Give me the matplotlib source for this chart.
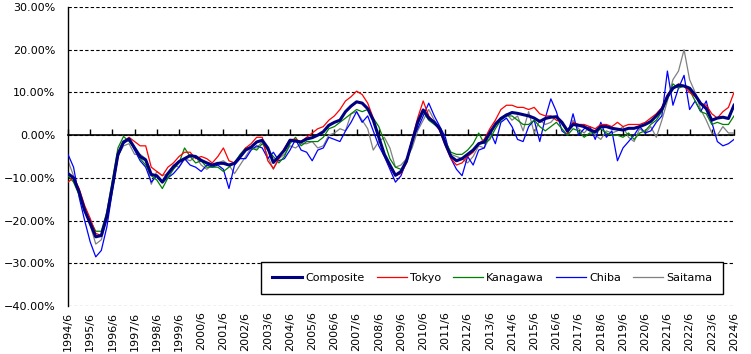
import numpy as np
import matplotlib
matplotlib.use("Agg")
from matplotlib import pyplot as plt
from matplotlib.ticker import FuncFormatter, FixedLocator

# quarterly readings (Jun 1994 .. Jun 2024), year-on-year change in %
start_year = 1994.5
composite = [
    -9.0, -10.0, -13.3,                 # 1994
    -17.6, -20.7, -23.8, -23.5,         # 1995
    -19.0, -12.0, -4.5, -1.6,           # 1996
    -0.9, -3.0, -5.0, -5.8,             # 1997
    -9.2, -9.5, -11.0, -9.0,            # 1998
    -7.4, -6.2, -5.5, -4.8,             # 1999
    -5.0, -5.9, -6.5, -7.0,             # 2000
    -6.6, -6.6, -7.0, -6.6,             # 2001
    -5.1, -3.5, -2.8, -1.6,             # 2002
    -1.2, -3.0, -6.4, -5.0,             # 2003
    -3.5, -1.2, -1.4, -1.6,             # 2004
    -0.9, -0.6, 0.0, 0.8,               # 2005
    2.3, 3.0, 3.5, 5.5,                 # 2006
    6.8, 7.8, 7.5, 6.2,                 # 2007
    3.5, -0.5, -4.5, -7.0,              # 2008
    -9.4, -8.5, -6.0, -1.5,             # 2009
    3.0, 5.9, 4.0, 3.0,                 # 2010
    1.5, -2.0, -5.0, -6.0,              # 2011
    -5.5, -4.5, -3.5, -2.0,             # 2012
    -1.6, 0.5, 2.5, 3.9,                # 2013
    4.7, 5.3, 5.1, 4.8,                 # 2014
    4.5, 4.0, 3.2, 3.9,                 # 2015
    4.2, 4.3, 3.0, 1.0,                 # 2016
    2.5, 2.3, 2.0, 1.2,                 # 2017
    0.8, 2.0, 2.0, 1.6,                 # 2018
    1.4, 1.2, 1.6, 1.6,                 # 2019
    2.0, 2.5, 3.2, 4.5,                 # 2020
    6.0, 9.0, 11.0, 11.7,               # 2021
    11.5, 11.0, 9.4, 7.4,               # 2022
    6.2, 3.5, 4.0, 4.2,                 # 2023
    3.9, 7.0,                           # 2024
]
tokyo = [
    -11.0, -10.0, -12.5,
    -16.5, -19.5, -23.0, -23.5,
    -19.5, -11.5, -4.0, -1.5,
    -0.5, -1.5, -2.5, -2.5,
    -7.5, -8.5, -9.5, -7.5,
    -6.5, -5.0, -4.0, -4.0,
    -5.5, -5.0, -5.5, -6.5,
    -5.0, -3.0, -6.0, -6.5,
    -5.0, -3.0, -2.0, -0.5,
    -0.5, -6.0, -7.8, -5.5,
    -3.0, -1.0, -1.0, -1.5,
    -0.5, 0.5, 1.5, 2.0,
    3.5, 4.5, 6.0, 8.0,
    9.0, 10.3, 9.5, 7.5,
    4.0, -0.5, -4.5, -7.5,
    -9.5, -9.0, -6.5, -1.0,
    4.0, 8.0, 4.5, 3.0,
    1.0, -2.5, -5.5, -7.0,
    -6.5, -5.0, -4.0, -2.0,
    -1.0, 1.5, 3.5, 6.0,
    7.0, 7.0, 6.5, 6.5,
    6.0, 6.5, 5.0, 4.5,
    4.5, 3.5, 3.0, 0.5,
    3.0, 2.5, 2.5, 2.0,
    1.5, 2.5, 2.5, 2.0,
    3.0, 2.0, 2.5, 2.5,
    2.5, 3.0, 4.0, 5.0,
    6.5, 9.5, 11.0, 12.0,
    11.5, 10.0, 9.0, 7.5,
    7.0, 5.0, 4.0, 5.5,
    6.5, 10.0,
]
kanagawa = [
    -9.5, -11.0, -14.0,
    -18.0, -20.0, -22.5, -22.5,
    -18.0, -10.5, -3.0, -0.3,
    -1.5, -3.0, -5.5, -7.0,
    -9.5, -10.5, -12.5, -10.0,
    -8.0, -6.5, -3.0, -5.0,
    -6.5, -6.0, -7.5, -7.5,
    -7.5, -8.5, -7.5, -6.5,
    -4.5, -3.0, -3.0, -3.5,
    -2.0, -3.5, -5.0, -6.5,
    -5.0, -2.0, -0.5, -2.5,
    -1.5, -1.5, -1.5, -0.5,
    1.5, 2.0, 3.0, 4.0,
    5.0, 6.0, 5.5, 6.0,
    4.0, 2.0, -1.5, -5.5,
    -7.5, -8.0, -6.5, -1.5,
    2.5, 5.5, 3.5, 2.5,
    1.5, -1.5, -4.0, -4.5,
    -4.5, -3.5, -2.0, 0.5,
    -2.0, -1.0, 1.5, 3.5,
    4.5, 4.5, 3.5, 2.5,
    2.5, 3.5, 2.0, 1.0,
    2.0, 3.0, 1.5, 0.0,
    1.5, 1.0, -0.5, 0.5,
    0.5, 1.5, 0.5, 0.0,
    0.0, -0.5, 0.5, -1.0,
    0.5, 1.0, 2.5, 3.5,
    5.5, 8.5, 12.0, 11.0,
    11.5, 10.5, 8.0, 5.5,
    5.0, 2.5, 3.0, 2.5,
    2.5, 4.5,
]
chiba = [
    -4.5, -7.5, -14.5,
    -20.0, -25.0, -28.5, -27.0,
    -21.5, -13.0, -5.0, -2.0,
    -1.0, -3.5, -6.0, -7.5,
    -11.0, -9.5, -11.0, -10.0,
    -9.0, -7.5, -5.5, -7.0,
    -7.5, -8.5, -7.0, -7.5,
    -7.0, -8.0, -12.5, -7.0,
    -5.5, -5.5, -3.5, -2.5,
    -3.0, -5.5, -4.0, -6.0,
    -5.5, -3.5, -1.0, -3.5,
    -4.0, -6.0, -3.5, -3.0,
    -0.5, -1.0, -1.5, 1.0,
    3.0, 5.5, 3.0, 4.5,
    1.0, -2.5, -5.0, -8.0,
    -11.0, -9.5, -6.0, -1.0,
    1.5, 4.5, 7.5, 4.5,
    2.0, -0.5, -5.5, -8.0,
    -9.5, -5.0, -7.0, -3.5,
    -3.0, 1.0, -2.0, 3.0,
    4.0, 2.0, -1.0, -1.5,
    2.0, 3.5, -1.5, 4.0,
    8.5, 5.5, 1.0, 0.0,
    5.0, 0.0, 1.5, 2.0,
    -1.0, 3.0, -0.5, 1.0,
    -6.0, -3.0, -1.5, 0.0,
    2.0, 0.5, 1.0, 3.0,
    4.5, 15.0, 7.0, 11.0,
    14.0, 6.0, 8.0, 5.5,
    8.0, 3.0, -1.5, -2.5,
    -2.0, -1.0,
]
saitama = [
    -6.0, -9.5, -13.0,
    -17.0, -21.0, -25.5, -24.5,
    -19.5, -12.5, -5.0, -2.5,
    -2.0, -4.5, -4.5, -5.5,
    -11.5, -8.5, -9.5, -9.0,
    -7.0, -7.5, -5.5, -6.0,
    -5.0, -7.0, -8.0, -7.0,
    -6.5, -6.0, -7.0, -9.0,
    -7.0, -5.0, -3.0, -3.0,
    -1.5, -5.0, -8.0, -5.5,
    -4.5, -2.5, -3.0, -2.0,
    -2.0, -1.5, -3.0, -2.5,
    0.0, 0.5, 1.5, 1.0,
    5.0, 5.5, 3.5, 1.5,
    -3.5, -1.5, -0.5, -3.0,
    -7.5, -7.0, -5.5, -3.0,
    1.0, 3.5, 6.0, 3.5,
    1.0, -1.5, -4.5, -5.0,
    -5.5, -6.5, -5.0, -2.5,
    -3.0, -0.5, 3.0, 4.0,
    5.0, 3.5, 4.5, 1.0,
    5.5, 0.5, 3.5, 2.5,
    3.0, 4.5, 2.5, 1.0,
    3.5, 1.5, 0.5, 2.0,
    0.0, -1.0, 1.0, 0.5,
    1.0, 2.0, -0.5, -1.5,
    1.5, 0.5, 2.0, -0.5,
    3.5, 8.0, 13.0, 15.0,
    20.0, 13.0, 10.0, 6.0,
    3.5, 0.5, 0.0, 2.0,
    0.5, 0.5,
]
tick_years = list(range(1994, 2025))
tick_labels = ["%d/6" % y for y in tick_years]

t = start_year + 0.25 * np.arange(len(composite))

fig = plt.figure(figsize=(7.51, 3.54), dpi=100)
ax = fig.add_axes([68 / 751, 48 / 354, 666 / 751, 299 / 354])

ax.plot(t, saitama, color="#808080", lw=0.9, label="Saitama", zorder=2)
ax.plot(t, chiba, color="#0000ff", lw=0.9, label="Chiba", zorder=3)
ax.plot(t, kanagawa, color="#008000", lw=0.9, label="Kanagawa", zorder=3)
ax.plot(t, tokyo, color="#ff0000", lw=0.9, label="Tokyo", zorder=3)
ax.plot(t, composite, color="#000080", lw=2.2, label="Composite", zorder=5)

ax.set_xlim(1994.5, 2024.5)
ax.set_ylim(-40, 30)
ax.set_yticks(np.arange(-40, 31, 10))
ax.yaxis.set_major_formatter(FuncFormatter(lambda v, p: ("%.2f%%" % v).replace("-", "\u2212")))
ax.tick_params(axis="y", length=0, pad=9, labelsize=8)
ax.grid(axis="y", color="black", linestyle=(0, (3, 2)), linewidth=0.8)
ax.set_axisbelow(True)

for s in ["top", "right"]:
    ax.spines[s].set_visible(False)
ax.spines["left"].set_linewidth(1.0)
# x axis sits on the zero line, ticks pointing up
ax.spines["bottom"].set_position(("data", 0))
ax.spines["bottom"].set_linewidth(1.2)
ax.spines["bottom"].set_zorder(1)
ticks = [y + 0.5 for y in tick_years]
ax.xaxis.set_major_locator(FixedLocator(ticks))
ax.tick_params(axis="x", direction="in", length=4, width=1, labelbottom=False)

sec = ax.secondary_xaxis(0)
sec.set_xticks(ticks, tick_labels)
sec.tick_params(length=0, rotation=90, labelsize=8, pad=4)
sec.spines["bottom"].set_visible(False)

handles, labels = ax.get_legend_handles_labels()
order = [4, 3, 2, 1, 0]
leg = ax.legend([handles[i] for i in order], [labels[i] for i in order],
                ncol=5, loc="lower right", bbox_to_anchor=(0.992, 0.022),
                fancybox=False, framealpha=1, edgecolor="black", fontsize=8,
                handlelength=2.7, handletextpad=0.3, columnspacing=1.05,
                borderpad=1.0)
leg.get_frame().set_linewidth(1.0)

fig.savefig("out.png", dpi=100)
